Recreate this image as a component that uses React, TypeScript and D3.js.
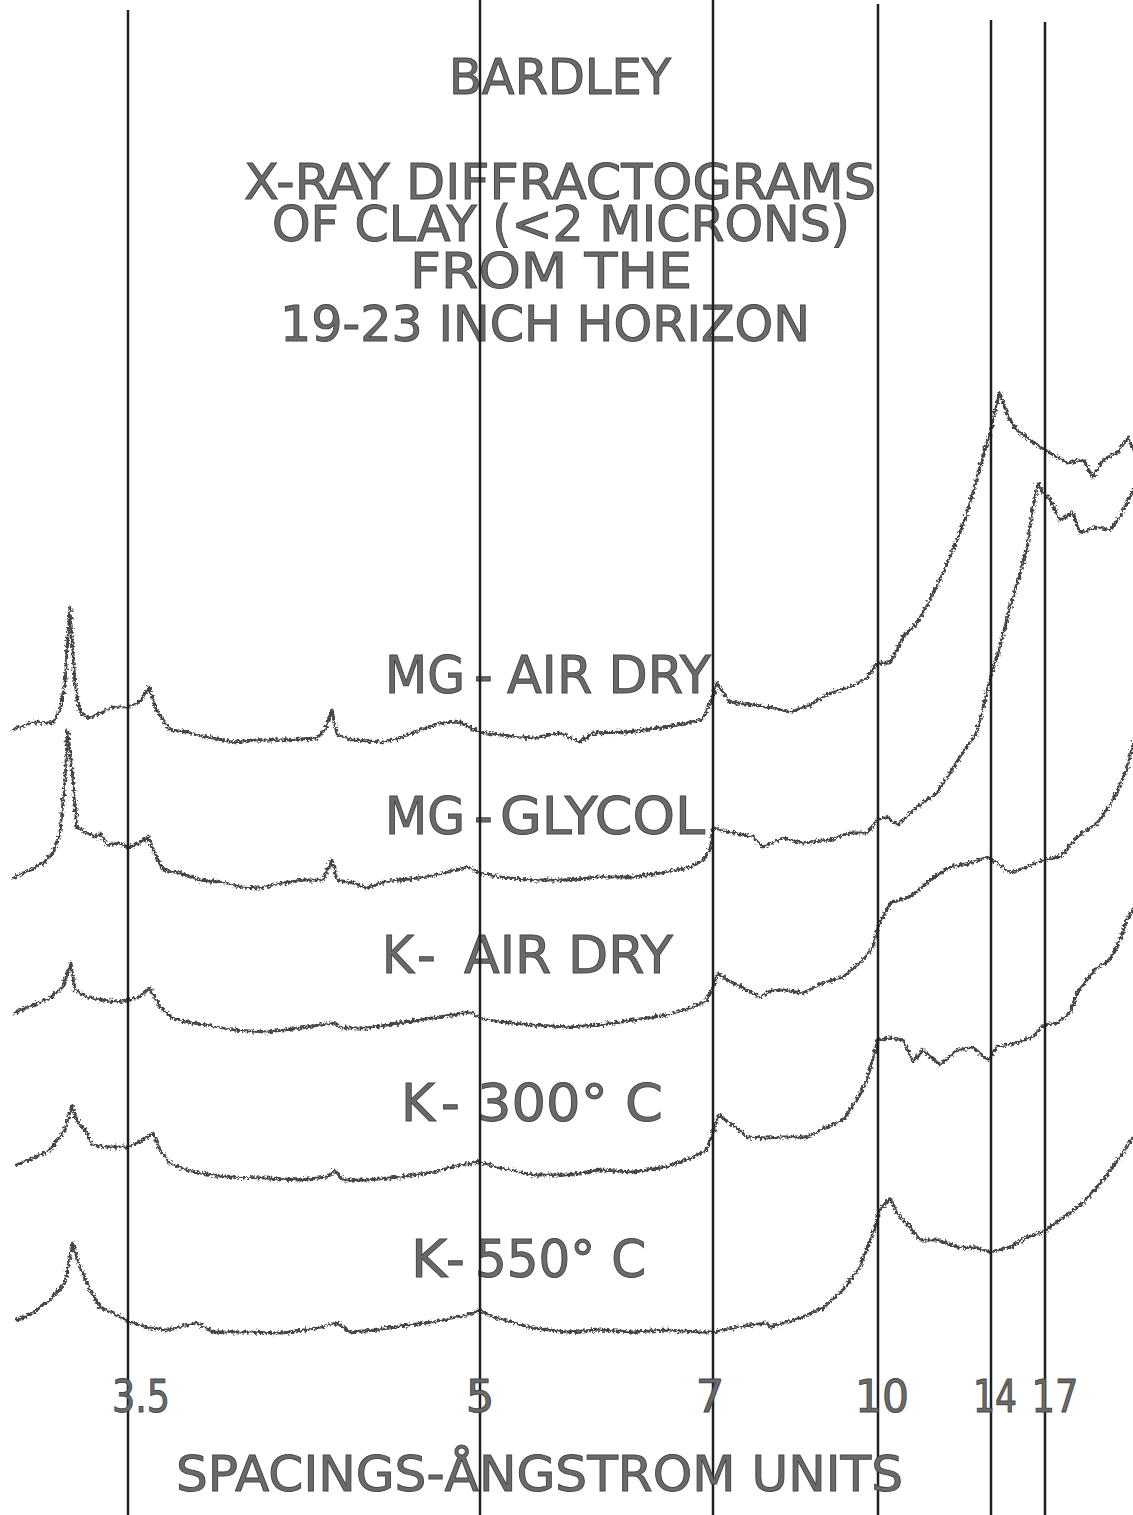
import React from "react";
import * as d3 from "d3";

// Cu K-alpha radiation, Å
const WAVELENGTH = 1.5418;

// d-spacing reference lines (Å) and their labels
const spacingTicks = [3.5, 5, 7, 10, 14, 17];
const tickLabels = ["3.5", "5", "7", "10", "14", "17"];

const titleLines = [
  "BARDLEY",
  "X-RAY DIFFRACTOGRAMS",
  "OF CLAY (<2 MICRONS)",
  "FROM THE",
  "19-23 INCH HORIZON",
];
const axisTitle = "SPACINGS-ÅNGSTROM UNITS";

const traceLabels = ["MG-AIR DRY", "MG-GLYCOL", "K-AIR DRY", "K-300° C", "K-550° C"];

// Recorder traces: [2θ (degrees), pen height (chart units)]
const mgAirDry: [number, number][] = [
  [27.97, 670], [27.53, 678], [27.09, 677], [26.94, 690], [26.83, 717], [26.72, 793],
  [26.61, 717], [26.5, 688], [26.33, 682], [26.06, 687], [25.78, 693], [25.47, 693],
  [25.19, 698], [24.99, 713], [24.82, 690], [24.53, 670], [24.16, 668], [23.72, 663],
  [23.15, 658], [22.71, 660], [22.06, 660], [21.31, 662], [21.14, 670], [20.98, 690],
  [20.87, 665], [20.52, 660], [19.86, 658], [19.49, 662], [19.05, 670], [18.62, 677],
  [18.18, 678], [17.74, 668], [17.3, 665], [16.58, 662], [15.99, 667], [15.55, 658],
  [15.27, 667], [14.53, 668], [13.8, 672], [13.21, 677], [12.89, 680], [12.78, 690],
  [12.67, 700], [12.55, 717], [12.41, 707], [12.25, 698], [11.72, 695], [11.26, 692],
  [10.87, 688], [10.41, 695], [9.95, 707], [9.49, 713], [9.1, 722], [8.87, 737],
  [8.57, 737], [8.28, 763], [7.97, 777], [7.68, 800], [7.39, 827], [7.07, 860],
  [6.85, 887], [6.56, 933], [6.34, 967], [6.19, 997], [6.13, 1008], [5.96, 983],
  [5.78, 970], [5.36, 955], [5.09, 947], [4.74, 937], [4.41, 940], [4.21, 923],
  [4.0, 940], [3.71, 947], [3.48, 963], [3.38, 950],
];

const mgGlycol: [number, number][] = [
  [27.97, 522], [27.6, 530], [27.31, 537], [27.09, 547], [26.94, 567], [26.83, 617],
  [26.77, 670], [26.68, 633], [26.57, 573], [26.35, 567], [26.13, 563], [26.06, 567],
  [25.91, 555], [25.63, 557], [25.45, 552], [25.19, 557], [25.01, 563], [24.9, 550],
  [24.68, 530], [24.31, 527], [23.87, 520], [23.28, 517], [23.0, 513], [22.56, 512],
  [22.06, 517], [21.62, 520], [21.18, 520], [20.98, 540], [20.87, 520], [20.52, 517],
  [20.22, 512], [19.86, 518], [19.49, 520], [18.9, 523], [18.46, 528], [18.0, 533],
  [17.74, 527], [17.3, 523], [16.58, 520], [15.84, 520], [15.12, 523], [14.39, 523],
  [13.65, 528], [13.15, 533], [12.86, 540], [12.71, 550], [12.645, 573], [12.48, 570],
  [12.18, 567], [11.72, 563], [11.49, 553], [11.03, 562], [10.57, 557], [9.95, 560],
  [9.49, 567], [9.1, 567], [8.87, 580], [8.64, 583], [8.4, 575], [7.97, 593],
  [7.52, 607], [7.23, 627], [6.94, 648], [6.63, 667], [6.49, 693], [6.34, 720],
  [6.13, 753], [5.92, 793], [5.71, 827], [5.57, 853], [5.45, 893], [5.34, 917],
  [5.24, 907], [5.09, 900], [4.89, 880], [4.62, 887], [4.48, 867], [4.12, 873],
  [3.86, 870], [3.65, 883], [3.38, 910],
];

const kAirDry: [number, number][] = [
  [27.93, 387], [27.53, 395], [27.16, 402], [26.88, 413], [26.7, 437], [26.61, 410],
  [26.35, 403], [26.06, 400], [25.69, 398], [25.45, 400], [25.19, 403], [24.97, 412],
  [24.75, 393], [24.47, 382], [24.16, 378], [23.72, 375], [23.15, 370], [22.41, 368],
  [21.68, 372], [20.96, 377], [20.74, 372], [20.22, 372], [19.78, 375], [19.49, 377],
  [18.77, 382], [17.96, 388], [17.74, 382], [17.3, 378], [16.58, 375], [15.84, 373],
  [15.12, 375], [14.39, 380], [13.65, 385], [13.08, 393], [12.78, 400], [12.645, 413],
  [12.53, 427], [12.32, 420], [11.86, 410], [11.56, 403], [11.26, 410], [11.03, 410],
  [10.57, 407], [10.11, 417], [9.65, 423], [9.19, 440], [8.96, 453], [8.84, 473],
  [8.57, 497], [8.13, 503], [7.68, 520], [7.23, 533], [6.78, 537], [6.4, 543],
  [6.19, 537], [5.92, 527], [5.57, 533], [5.24, 540], [4.89, 543], [4.54, 563],
  [4.12, 577], [3.79, 600], [3.51, 630], [3.38, 657],
];

const k300: [number, number][] = [
  [27.88, 235], [27.53, 242], [27.16, 250], [26.83, 270], [26.68, 295], [26.57, 280],
  [26.35, 267], [26.24, 255], [25.91, 253], [25.45, 253], [25.12, 260], [24.9, 267],
  [24.75, 250], [24.53, 237], [24.16, 230], [23.87, 227], [23.28, 223], [22.41, 222],
  [21.68, 220], [21.09, 223], [20.92, 230], [20.74, 220], [20.22, 220], [19.49, 223],
  [18.77, 228], [18.18, 235], [17.74, 238], [17.3, 232], [16.58, 225], [15.84, 225],
  [15.12, 230], [14.39, 228], [13.65, 233], [13.08, 243], [12.78, 250], [12.645, 267],
  [12.53, 285], [12.25, 277], [11.86, 263], [11.4, 262], [11.03, 263], [10.48, 263],
  [10.02, 273], [9.65, 280], [9.33, 300], [9.1, 320], [8.84, 360], [8.57, 362],
  [8.28, 360], [8.06, 338], [7.84, 350], [7.45, 335], [7.07, 350], [6.72, 353],
  [6.38, 340], [6.19, 353], [5.78, 357], [5.45, 363], [5.24, 375], [4.95, 377],
  [4.68, 387], [4.54, 407], [4.12, 433], [3.86, 440], [3.65, 460], [3.51, 480],
  [3.38, 490],
];

const k550: [number, number][] = [
  [27.88, 80], [27.53, 87], [27.16, 100], [26.83, 117], [26.66, 157], [26.5, 133],
  [26.28, 110], [26.06, 93], [25.78, 87], [25.41, 78], [24.97, 72], [24.6, 70],
  [23.94, 77], [23.59, 68], [22.78, 68], [22.06, 67], [21.31, 72], [20.87, 77],
  [20.59, 68], [20.0, 70], [19.49, 74], [18.77, 78], [18.02, 85], [17.74, 90],
  [17.46, 83], [16.58, 72], [15.84, 68], [15.12, 70], [14.39, 68], [13.65, 70],
  [12.93, 68], [12.645, 68], [12.18, 72], [11.79, 75], [11.4, 77], [11.33, 73],
  [10.64, 82], [10.11, 92], [9.65, 110], [9.26, 133], [8.96, 167], [8.8, 190],
  [8.57, 202], [8.42, 187], [8.13, 173], [7.9, 160], [7.52, 160], [7.07, 153],
  [6.63, 152], [6.34, 148], [5.92, 153], [5.57, 163], [5.24, 168], [4.89, 180],
  [4.41, 197], [4.0, 220], [3.65, 243], [3.38, 263],
];

const traces = [mgAirDry, mgGlycol, kAirDry, k300, k550];

const WIDTH = 1133;
const HEIGHT = 1515;

const twoTheta = (d: number) => (2 * Math.asin(WAVELENGTH / (2 * d)) * 180) / Math.PI;

// Chart paper runs linearly in 2θ, decreasing to the right
const xScale = d3
  .scaleLinear()
  .domain(spacingTicks.map(twoTheta))
  .range([128, 480, 713, 878, 991, 1045]);

const yScale = d3.scaleLinear().domain([0, 1000]).range([1400, 400]);

const lineGen = d3
  .line<[number, number]>()
  .x((d) => xScale(d[0]))
  .y((d) => yScale(d[1]))
  .curve(d3.curveLinear);

const FONT = "'DejaVu Sans', 'Liberation Sans', sans-serif";
const INK = "#6a6a6a";
const INK_EDGE = "#474747";

// Title lettering placement: [x start, baseline, text length]
const titleLayout: [number, number, number][] = [
  [449, 94, 222],
  [244, 199, 632],
  [272, 241, 578],
  [410, 288, 282],
  [280, 341, 530],
];

// Trace label placement: baseline, then [start, length] for the prefix,
// the hyphen start, and [start, length] for the remainder
const labelLayout: { y: number; pre: [number, number]; dash: number; rest: [number, number] }[] = [
  { y: 693, pre: [385, 80], dash: 474, rest: [507, 204] },
  { y: 834, pre: [385, 80], dash: 474, rest: [500, 205] },
  { y: 973, pre: [382, 32], dash: 417, rest: [464, 209] },
  { y: 1121, pre: [401, 34], dash: 441, rest: [477, 186] },
  { y: 1277, pre: [411, 36], dash: 446, rest: [475, 171] },
];

// Spacing label centres relative to each reference line, and widths (0 = natural)
const tickLabelShift = [13, 0, -3, 4, 4, 10];
const tickLabelLength = [58, 0, 0, 54, 44, 47];
const lineTops = [10, 0, 0, 4, 20, 22];

function Lettering({
  text,
  x,
  y,
  len,
  size,
}: {
  text: string;
  x: number;
  y: number;
  len: number;
  size: number;
}) {
  return (
    <text
      x={x}
      y={y}
      fontFamily={FONT}
      fontSize={size}
      fill={INK}
      stroke={INK_EDGE}
      strokeWidth={1}
      textLength={len}
      lengthAdjust="spacingAndGlyphs"
    >
      {text}
    </text>
  );
}

function TraceLabel({ text, layout }: { text: string; layout: (typeof labelLayout)[number] }) {
  const cut = text.indexOf("-");
  const pre = text.slice(0, cut);
  const rest = text.slice(cut + 1);
  return (
    <text
      y={layout.y}
      fontFamily={FONT}
      fontSize={52}
      fill={INK}
      stroke={INK_EDGE}
      strokeWidth={1}
    >
      <tspan x={layout.pre[0]} textLength={layout.pre[1]} lengthAdjust="spacingAndGlyphs">
        {pre}
      </tspan>
      <tspan x={layout.dash}>-</tspan>
      <tspan x={layout.rest[0]} textLength={layout.rest[1]} lengthAdjust="spacingAndGlyphs">
        {rest}
      </tspan>
    </text>
  );
}

export default function App() {
  return (
    <svg
      width={WIDTH}
      height={HEIGHT}
      viewBox={`0 0 ${WIDTH} ${HEIGHT}`}
      style={{ position: "absolute", left: 0, top: 0, background: "#fff" }}
    >
      <defs>
        <filter id="pen" x="-2%" y="-2%" width="104%" height="104%">
          <feTurbulence type="fractalNoise" baseFrequency="0.4" numOctaves={2} seed={11} result="n" />
          <feDisplacementMap in="SourceGraphic" in2="n" scale={6.5} xChannelSelector="R" yChannelSelector="G" />
        </filter>
      </defs>
      <rect x={0} y={0} width={WIDTH} height={HEIGHT} fill="#fff" />

      {/* title */}
      {titleLines.map((t, i) => (
        <Lettering key={t} text={t} x={titleLayout[i][0]} y={titleLayout[i][1]} len={titleLayout[i][2]} size={49} />
      ))}

      {/* trace labels */}
      {traceLabels.map((t, i) => (
        <TraceLabel key={t} text={t} layout={labelLayout[i]} />
      ))}

      {/* diffractogram traces */}
      <g filter="url(#pen)">
        {traces.map((tr, i) => (
          <path
            key={i}
            d={lineGen(tr) ?? ""}
            fill="none"
            stroke="#454545"
            strokeWidth={2.8}
            strokeLinejoin="round"
            strokeLinecap="round"
          />
        ))}
      </g>

      {/* d-spacing reference lines */}
      {spacingTicks.map((d, i) => (
        <line
          key={d}
          x1={xScale(twoTheta(d))}
          x2={xScale(twoTheta(d))}
          y1={lineTops[i]}
          y2={HEIGHT}
          stroke="#1f1f1f"
          strokeWidth={2.5}
        />
      ))}

      {/* spacing labels */}
      {spacingTicks.map((d, i) => {
        const cx = xScale(twoTheta(d)) + tickLabelShift[i];
        const len = tickLabelLength[i];
        return (
          <text
            key={d}
            x={cx}
            y={1412}
            textAnchor="middle"
            fontFamily={FONT}
            fontSize={45}
            fill={INK}
            stroke={INK_EDGE}
            strokeWidth={1}
            {...(len > 0 ? { textLength: len, lengthAdjust: "spacingAndGlyphs" } : {})}
          >
            {tickLabels[i]}
          </text>
        );
      })}

      <Lettering text={axisTitle} x={176} y={1491} len={727} size={50} />
    </svg>
  );
}
